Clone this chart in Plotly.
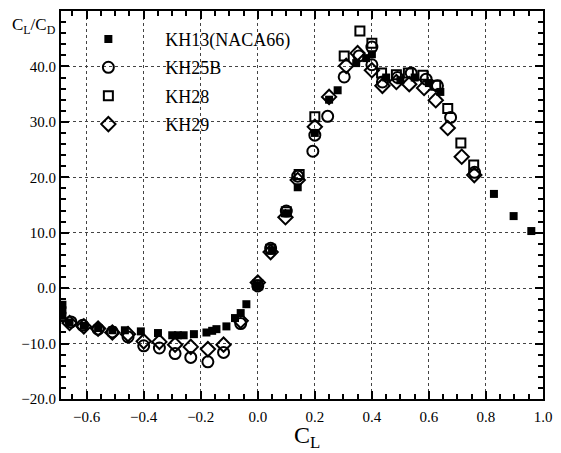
import plotly.graph_objects as go

kh13_x = [-0.685, -0.685, -0.685, -0.66, -0.61, -0.56, -0.51, -0.466, -0.41, -0.35, -0.30, -0.28, -0.26,
          -0.224, -0.18, -0.16, -0.145, -0.11, -0.08, -0.06, -0.04, 0.0, 0.05, 0.10, 0.14, 0.20, 0.25,
          0.28, 0.345, 0.38, 0.40, 0.45, 0.50, 0.55, 0.60, 0.64, 0.828, 0.897, 0.959]
kh13_y = [-3.0, -4.0, -5.0, -6.2, -6.8, -7.2, -7.6, -7.6, -7.8, -8.1, -8.5, -8.5, -8.5,
          -8.3, -8.0, -7.7, -7.4, -6.9, -5.4, -4.5, -2.9, 0.5, 6.8, 13.5, 18.2, 28.0, 34.0,
          35.7, 40.6, 41.5, 42.2, 38.0, 37.5, 38.0, 37.0, 35.4, 17.0, 13.0, 10.3]

kh25b_x = [-0.655, -0.614, -0.56, -0.51, -0.455, -0.40, -0.345, -0.29, -0.235, -0.175, -0.12, -0.06,
           0.0, 0.045, 0.10, 0.14, 0.193, 0.20, 0.245, 0.303, 0.355, 0.40, 0.40, 0.437, 0.49, 0.538,
           0.59, 0.63, 0.676, 0.76]
kh25b_y = [-6.1, -6.7, -7.4, -7.9, -8.8, -10.4, -10.8, -11.8, -12.5, -13.3, -11.6, -6.4,
           0.4, 7.2, 13.9, 20.2, 24.7, 27.6, 31.0, 38.1, 41.9, 43.5, 40.3, 37.2, 38.0, 38.8,
           37.7, 36.5, 30.8, 20.9]

kh28_x = [0.0, 0.045, 0.10, 0.145, 0.20, 0.303, 0.358, 0.40, 0.434, 0.486, 0.528, 0.579, 0.624,
          0.666, 0.712, 0.757]
kh28_y = [0.6, 7.0, 13.8, 20.5, 30.9, 41.9, 46.4, 44.2, 38.8, 38.5, 38.8, 38.4, 36.6,
          32.4, 26.2, 22.2]

kh29_x = [-0.66, -0.61, -0.56, -0.51, -0.455, -0.40, -0.345, -0.29, -0.235, -0.175, -0.12, -0.06,
          0.0, 0.045, 0.097, 0.14, 0.20, 0.25, 0.31, 0.35, 0.40, 0.437, 0.486, 0.531, 0.583,
          0.624, 0.666, 0.715, 0.759]
kh29_y = [-6.3, -6.9, -7.3, -8.0, -8.3, -9.6, -9.7, -10.2, -10.6, -11.0, -10.2, -5.9,
          1.0, 6.5, 12.8, 19.5, 29.1, 34.5, 40.1, 42.4, 39.3, 36.5, 37.2, 36.8, 36.1,
          33.9, 28.9, 23.7, 20.4]

x_ticks = [-0.6, -0.4, -0.2, 0.0, 0.2, 0.4, 0.6, 0.8, 1.0]
y_ticks = [-20, -10, 0, 10, 20, 30, 40]

fig = go.Figure()
series = [
    ("KH13(NACA66)", kh13_x, kh13_y, dict(symbol="square", size=8, color="black")),
    ("KH25B", kh25b_x, kh25b_y, dict(symbol="circle-open", size=11, color="black", line=dict(width=2))),
    ("KH28", kh28_x, kh28_y, dict(symbol="square-open", size=9, color="black", line=dict(width=2))),
    ("KH29", kh29_x, kh29_y, dict(symbol="diamond-open", size=11, color="black", line=dict(width=2))),
]
for i, (name, xs, ys, mk) in enumerate(series):
    fig.add_trace(go.Scatter(x=xs, y=ys, mode="markers", name=name, marker=mk,
                             legendgroup=f"g{i}"))

font = "Liberation Serif, Times New Roman, serif"
axis_common = dict(
    showline=True, linecolor="black", linewidth=2, mirror="ticks",
    ticks="inside", ticklen=8, tickwidth=2, tickcolor="black",
    showgrid=True, gridcolor="#444", gridwidth=1, griddash="dot",
    zeroline=False, tickformat=".1f",
    tickfont=dict(family=font, size=15, color="black"),
)
fig.update_xaxes(range=[-0.69, 1.0], tickvals=x_ticks, ticklabelstandoff=3,
                 minor=dict(dtick=0.05, ticks="inside", ticklen=5, tickwidth=2, tickcolor="black", showgrid=False),
                 **axis_common)
fig.update_yaxes(range=[-20, 50], tickvals=y_ticks,
                 minor=dict(dtick=2, ticks="inside", ticklen=5, tickwidth=2, tickcolor="black", showgrid=False),
                 **axis_common)

fig.add_annotation(text="C<sub>L</sub>/C<sub>D</sub>", xref="paper", yref="paper",
                   x=-0.006, y=0.995, xanchor="right", yanchor="top", showarrow=False,
                   font=dict(family=font, size=17, color="black"))
fig.add_annotation(text="C<sub>L</sub>", xref="paper", yref="paper",
                   x=0.51, y=-0.098, xanchor="center", yanchor="middle", showarrow=False,
                   font=dict(family=font, size=24, color="black"))

fig.update_layout(
    width=561, height=453,
    margin=dict(l=61, r=12, t=9, b=54),
    plot_bgcolor="white", paper_bgcolor="white",
    showlegend=True,
    legend=dict(x=-0.02, y=0.975, xanchor="left", yanchor="top",
                bgcolor="rgba(0,0,0,0)", traceorder="grouped", tracegroupgap=2,
                itemwidth=104, font=dict(family=font, size=18, color="black")),
)

fig.write_html("out.html")
